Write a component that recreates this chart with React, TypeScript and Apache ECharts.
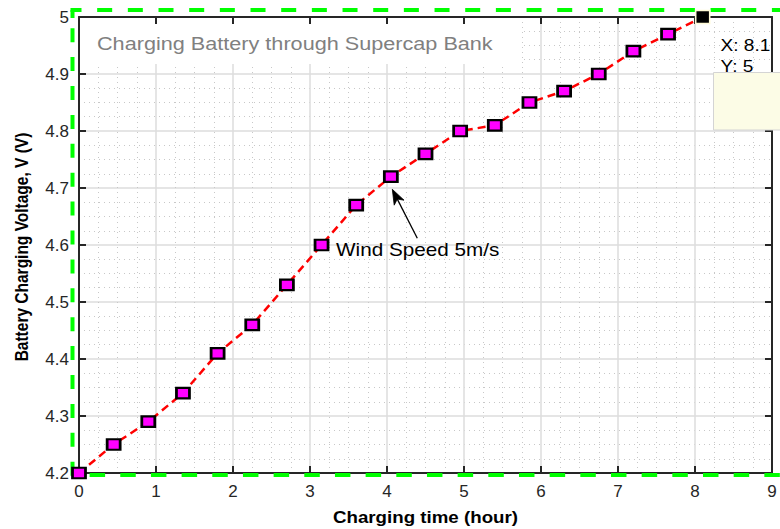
import React, { useEffect, useRef } from "react";
import * as echarts from "echarts";

const timeHours = [0, 0.45, 0.9, 1.35, 1.8, 2.25, 2.7, 3.15, 3.6, 4.05, 4.5, 4.95, 5.4, 5.85, 6.3, 6.75, 7.2, 7.65, 8.1];
const voltage = [4.2, 4.25, 4.29, 4.34, 4.41, 4.46, 4.53, 4.6, 4.67, 4.72, 4.76, 4.8, 4.81, 4.85, 4.87, 4.9, 4.94, 4.97, 5.0];
const xRange = [0, 9];
const yRange = [4.2, 5.0];
const titleText = "Charging Battery through Supercap Bank";
const xAxisName = "Charging time (hour)";
const yAxisName = "Battery Charging Voltage, V (V)";
const annotationText = "Wind Speed 5m/s";
const dataTipX = 8.1;
const dataTipY = 5;

const FONT = "'Liberation Sans', Arial, Helvetica, sans-serif";
const AXIS_COLOR = "#262626";
const STRETCH = 1.17;

export default function App() {
  const ref = useRef<HTMLDivElement>(null);

  useEffect(() => {
    if (!ref.current) return;
    const chart = echarts.init(ref.current, undefined, { renderer: "svg" });

    const seriesData = timeHours.map((t, i) => {
      const isTip = t === dataTipX && voltage[i] === dataTipY;
      if (isTip) {
        return {
          value: [t, voltage[i]],
          symbolSize: [14, 13],
          itemStyle: { color: "#000000", borderColor: "#fffbd8", borderWidth: 1.5 },
        };
      }
      return { value: [t, voltage[i]] };
    });

    const commonAxisLine = { show: true, onZero: false, lineStyle: { color: AXIS_COLOR, width: 2 } };
    const commonTick = { show: true, inside: true, length: 7, lineStyle: { color: AXIS_COLOR, width: 2 } };

    // arrow geometry (annotation)
    const tip = [392.3, 189.3];
    const tail = [417.3, 238.3];
    const dx = tip[0] - tail[0];
    const dy = tip[1] - tail[1];
    const len = Math.sqrt(dx * dx + dy * dy);
    const ux = dx / len;
    const uy = dy / len;
    const nx = -uy;
    const ny = ux;
    const headLen = 15;
    const headHalf = 5.5;
    const notchLen = 11;
    const bx = tip[0] - headLen * ux;
    const by = tip[1] - headLen * uy;
    const notch = [tip[0] - notchLen * ux, tip[1] - notchLen * uy];

    const green = { stroke: "#00ff00", lineWidth: 4, fill: null };
    const minorLine = { show: true, lineStyle: { color: "#c8c8c8", width: 1, type: [1, 4] } };

    chart.setOption({
      animation: false,
      backgroundColor: "#ffffff",
      grid: { left: 79, right: 8, top: 17, bottom: 56, containLabel: false },
      xAxis: [
        {
          type: "value",
          position: "bottom",
          min: xRange[0],
          max: xRange[1],
          interval: 1,
          z: 0,
          axisLine: commonAxisLine,
          axisTick: commonTick,
          axisLabel: { color: AXIS_COLOR, fontSize: 17, fontFamily: FONT, margin: 10 },
          splitLine: { show: true, lineStyle: { color: "#dcdcdc", width: 1.5 } },
          minorTick: { show: false, splitNumber: 4 },
          minorSplitLine: minorLine,
        },
        {
          type: "value",
          position: "top",
          min: xRange[0],
          max: xRange[1],
          interval: 1,
          z: 3,
          axisLine: commonAxisLine,
          axisTick: commonTick,
          axisLabel: { show: false },
          splitLine: { show: false },
        },
      ],
      yAxis: [
        {
          type: "value",
          position: "left",
          min: yRange[0],
          max: yRange[1],
          interval: 0.1,
          z: 0,
          axisLine: commonAxisLine,
          axisTick: commonTick,
          axisLabel: {
            color: AXIS_COLOR,
            fontSize: 17,
            fontFamily: FONT,
            margin: 10,
            formatter: (v: number) => String(Math.round(v * 10) / 10),
          },
          splitLine: { show: true, lineStyle: { color: "#dcdcdc", width: 1.5 } },
          minorTick: { show: false, splitNumber: 4 },
          minorSplitLine: minorLine,
        },
        {
          type: "value",
          position: "right",
          min: yRange[0],
          max: yRange[1],
          interval: 0.1,
          z: 3,
          axisLine: commonAxisLine,
          axisTick: commonTick,
          axisLabel: { show: false },
          splitLine: { show: false },
        },
      ],
      series: [
        {
          type: "line",
          xAxisIndex: 0,
          yAxisIndex: 0,
          data: seriesData,
          z: 10,
          clip: false,
          symbol: "rect",
          symbolSize: [13, 10.5],
          showAllSymbol: true,
          lineStyle: { color: "#ff0000", width: 2.5, type: [8, 5] },
          itemStyle: { color: "#ff00ff", borderColor: "#000000", borderWidth: 2.5 },
        },
      ],
      graphic: [
        // white box behind the title
        {
          type: "rect",
          z: 1,
          silent: true,
          shape: { x: 84, y: 22, width: 438, height: 42 },
          style: { fill: "#ffffff" },
        },
        {
          type: "text",
          z: 2,
          x: 97,
          y: 43.5,
          scaleX: STRETCH,
          style: {
            text: titleText,
            fill: "#808080",
            fontSize: 18.5,
            fontFamily: FONT,
            align: "left",
            verticalAlign: "middle",
          },
        },
        // annotation
        {
          type: "text",
          z: 6,
          x: 336,
          y: 250.5,
          scaleX: STRETCH,
          style: {
            text: annotationText,
            fill: "#000000",
            fontSize: 17.7,
            fontFamily: FONT,
            align: "left",
            verticalAlign: "middle",
          },
        },
        {
          type: "line",
          z: 6,
          shape: { x1: tail[0], y1: tail[1], x2: notch[0], y2: notch[1] },
          style: { stroke: "#000000", lineWidth: 1.3 },
        },
        {
          type: "polygon",
          z: 6,
          shape: {
            points: [
              tip,
              [bx + headHalf * nx, by + headHalf * ny],
              notch,
              [bx - headHalf * nx, by - headHalf * ny],
            ],
          },
          style: { fill: "#000000", stroke: "#000000", lineWidth: 0.8 },
        },
        // data tip
        {
          type: "text",
          z: 7,
          x: 720.5,
          y: 45,
          scaleX: STRETCH,
          style: {
            text: "X: " + dataTipX,
            fill: "#000000",
            fontSize: 16.3,
            fontFamily: FONT,
            align: "left",
            verticalAlign: "middle",
          },
        },
        {
          type: "text",
          z: 7,
          x: 720.5,
          y: 66.7,
          scaleX: STRETCH,
          style: {
            text: "Y: " + dataTipY,
            fill: "#000000",
            fontSize: 16.3,
            fontFamily: FONT,
            align: "left",
            verticalAlign: "middle",
          },
        },
        {
          type: "rect",
          z: 8,
          shape: { x: 713.5, y: 72.5, width: 80, height: 57.5 },
          style: { fill: "#fcfce6", stroke: "#d4d4d4", lineWidth: 1 },
        },
        // axis names
        {
          type: "text",
          z: 6,
          x: 425.5,
          y: 517,
          scaleX: STRETCH,
          style: {
            text: xAxisName,
            fill: "#000000",
            fontSize: 16,
            fontWeight: "bold",
            fontFamily: FONT,
            align: "center",
            verticalAlign: "middle",
          },
        },
        {
          type: "text",
          z: 6,
          x: 22,
          y: 247,
          rotation: Math.PI / 2,
          scaleY: STRETCH,
          style: {
            text: yAxisName,
            fill: "#000000",
            fontSize: 15.5,
            fontWeight: "bold",
            fontFamily: FONT,
            align: "center",
            verticalAlign: "middle",
          },
        },
        // green dashed border
        {
          type: "line",
          z: 9,
          shape: { x1: 70.5, y1: 10, x2: 800, y2: 10 },
          style: { ...green, lineDash: [15, 15.67], lineDashOffset: 4.47 },
        },
        {
          type: "line",
          z: 9,
          shape: { x1: 72.5, y1: 28.2, x2: 72.5, y2: 477 },
          style: { ...green, lineDash: [14, 14.9] },
        },
        {
          type: "line",
          z: 9,
          shape: { x1: 89.6, y1: 475, x2: 800, y2: 475 },
          style: { ...green, lineDash: [15.5, 15.17] },
        },
        {
          type: "line",
          z: 9,
          shape: { x1: 72.5, y1: 10, x2: 72.5, y2: 18 },
          style: { ...green },
        },
      ],
    });

    return () => {
      chart.dispose();
    };
  }, []);

  return (
    <div
      ref={ref}
      style={{ position: "absolute", left: 0, top: 0, width: 780, height: 529, background: "#ffffff" }}
    />
  );
}
